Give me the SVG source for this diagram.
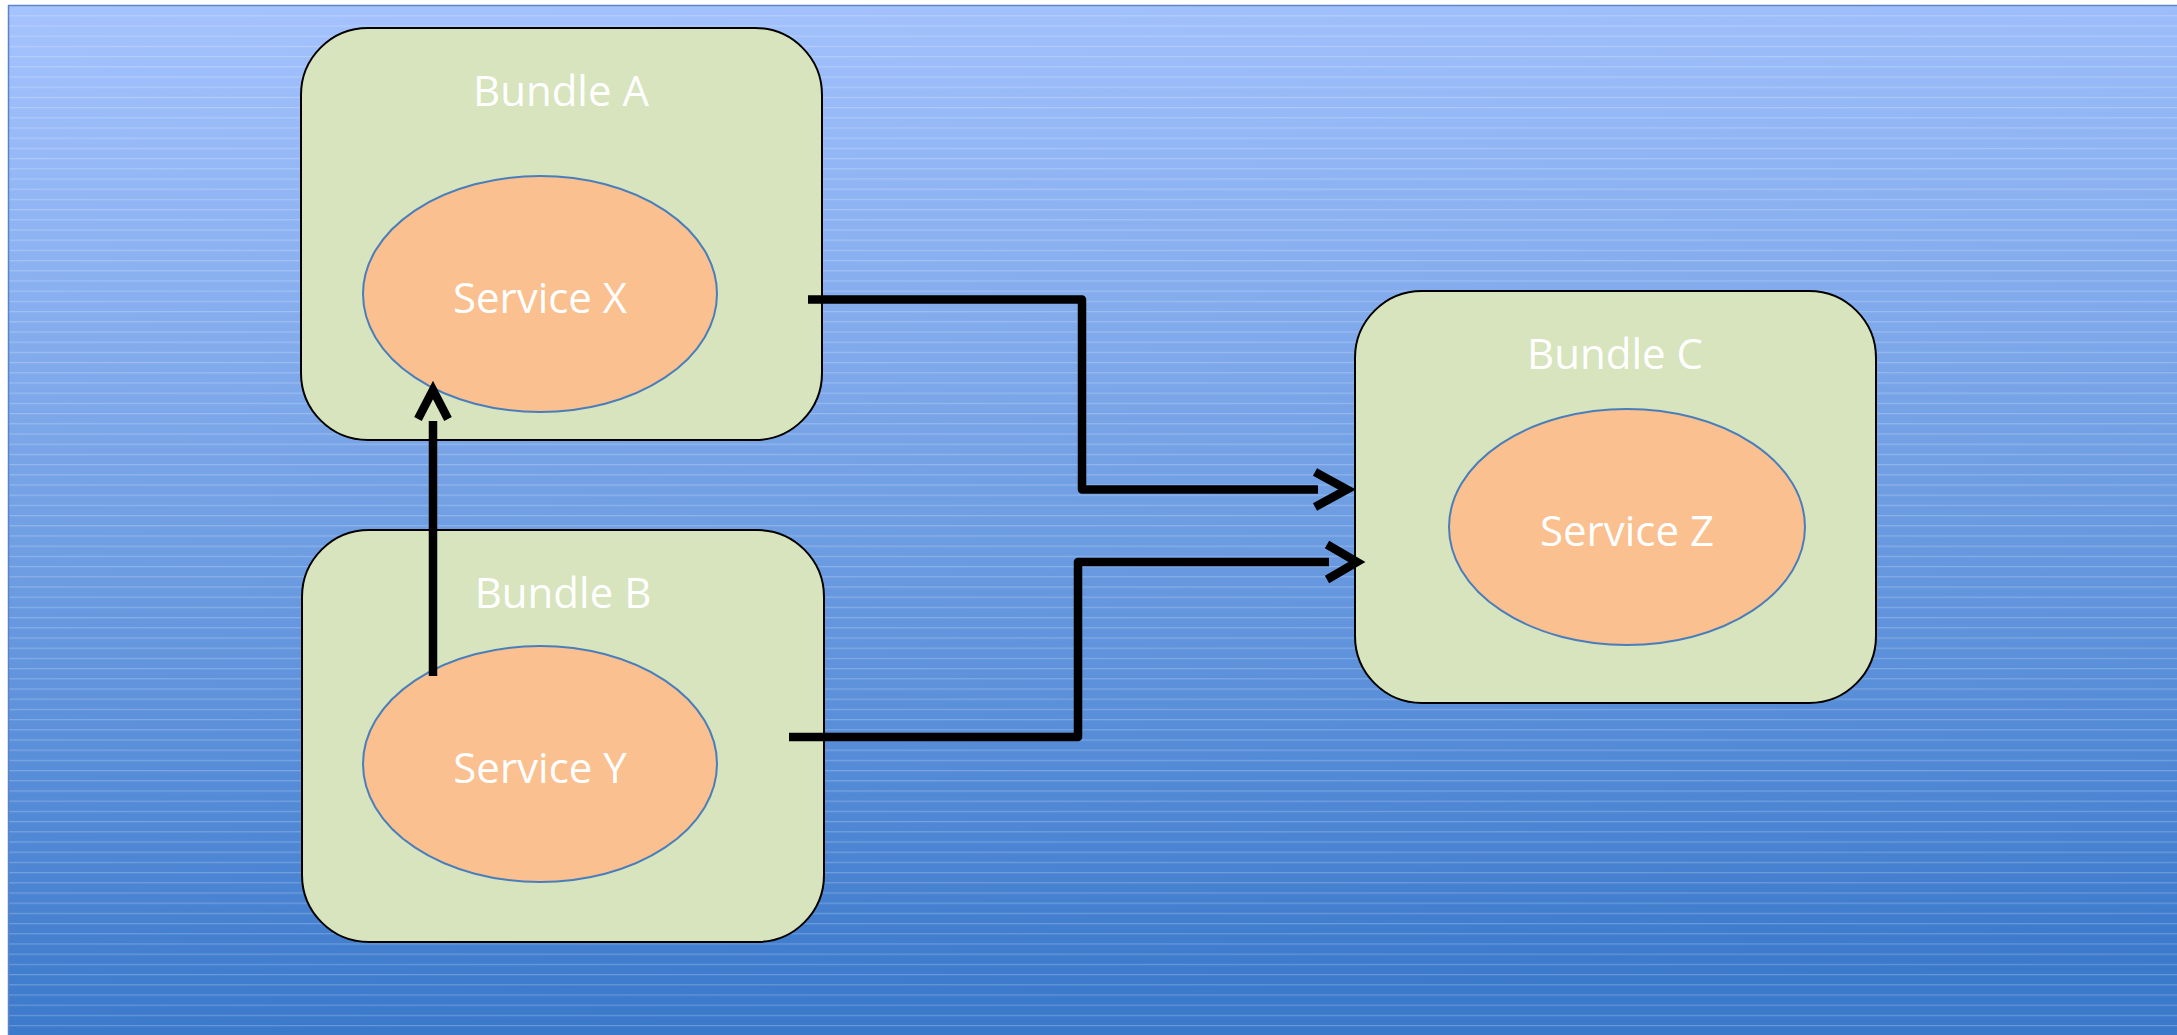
<svg xmlns="http://www.w3.org/2000/svg" width="2177" height="1035" viewBox="0 0 2177 1035">
  <defs>
    <linearGradient id="bg" x1="0" y1="0" x2="0.08" y2="1">
      <stop offset="0" stop-color="#a5c3fe"/>
      <stop offset="0.5" stop-color="#72a0e4"/>
      <stop offset="1" stop-color="#3b79cb"/>
    </linearGradient>
    <pattern id="stripes" x="0" y="5" width="2177" height="10.2" patternUnits="userSpaceOnUse">
      <rect x="0" y="0" width="2177" height="1.2" fill="#ffffff" opacity="0.22"/>
    </pattern>
  </defs>
  <style>
    .bundle { fill: #d7e4bd; stroke: #000000; stroke-width: 2; }
    .service { fill: #fac090; stroke: #4a7ebb; stroke-width: 2; }
    .label { font-family: "Open Sans", "Liberation Sans", sans-serif; font-size: 42px; fill: #ffffff; text-anchor: middle; }
    .conn { fill: none; stroke: #000000; stroke-width: 8.5; stroke-linejoin: round; stroke-linecap: butt; }
    .head { fill: none; stroke: #000000; stroke-width: 8.5; stroke-linejoin: miter; stroke-linecap: butt; stroke-miterlimit: 6; }
  </style>

  <rect x="0" y="0" width="2177" height="1035" fill="#ffffff"/>
  <rect x="8" y="5" width="2170" height="1031" fill="url(#bg)"/>
  <rect x="8" y="5" width="2170" height="1031" fill="url(#stripes)"/>
  <line x1="8" y1="5.5" x2="2177" y2="5.5" stroke="#5b84c4" stroke-width="1.5"/>
  <line x1="8.5" y1="5" x2="8.5" y2="1035" stroke="#5b84c4" stroke-width="1.5"/>

  <g id="bundleA">
    <rect class="bundle" x="301" y="28" width="521" height="412" rx="67" ry="67"/>
    <text class="label" x="561" y="106">Bundle A</text>
  </g>
  <g id="serviceX">
    <ellipse class="service" cx="540" cy="294" rx="177" ry="118"/>
    <text class="label" x="540" y="313">Service X</text>
  </g>

  <g id="bundleB">
    <rect class="bundle" x="302" y="530" width="522" height="412" rx="67" ry="67"/>
    <text class="label" x="563" y="608">Bundle B</text>
  </g>
  <g id="serviceY">
    <ellipse class="service" cx="540" cy="764" rx="177" ry="118"/>
    <text class="label" x="540" y="783">Service Y</text>
  </g>

  <g id="bundleC">
    <rect class="bundle" x="1355" y="291" width="521" height="412" rx="67" ry="67"/>
    <text class="label" x="1615" y="369">Bundle C</text>
  </g>
  <g id="serviceZ">
    <ellipse class="service" cx="1627" cy="527" rx="178" ry="118"/>
    <text class="label" x="1627" y="546">Service Z</text>
  </g>

  <g id="connectors">
    <path class="conn" d="M 808 299.5 H 1082 V 489.5 H 1318"/>
    <polyline class="head" points="1315,472 1347,489.5 1315,507"/>
    <path class="conn" d="M 789 737 H 1078 V 562 H 1329"/>
    <polyline class="head" points="1327,544.5 1357,562 1327,579.5"/>
    <path class="conn" d="M 433 676 V 421"/>
    <polyline class="head" points="418,419 433,390 448,419"/>
  </g>
</svg>
